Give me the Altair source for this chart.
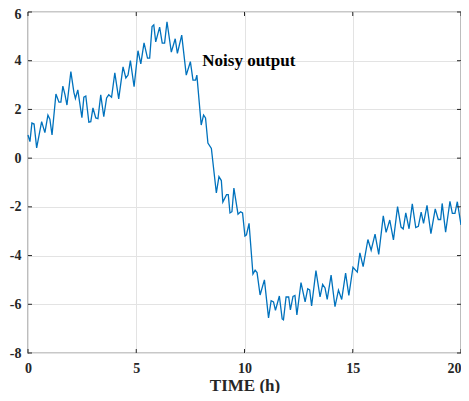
import altair as alt
import pandas as pd

# Time (h) of each traced vertex and the noisy output value
time_h = [0.00, 0.09, 0.18, 0.28, 0.40, 0.63, 0.78, 0.92, 1.01, 1.11, 1.29, 1.43, 1.52, 1.61, 1.71,
          1.80, 1.98, 2.12, 2.19, 2.30, 2.49, 2.58, 2.67, 2.81, 2.90, 3.00, 3.13, 3.23, 3.36, 3.50,
          3.63, 3.73, 3.86, 4.01, 4.19, 4.39, 4.52, 4.62, 4.73, 4.90, 5.08, 5.21, 5.36, 5.52, 5.62,
          5.73, 5.81, 5.90, 6.08, 6.20, 6.31, 6.42, 6.62, 6.80, 6.90, 7.10, 7.31, 7.50, 7.62, 7.74,
          7.80, 8.00, 8.11, 8.20, 8.31, 8.47, 8.70, 8.82, 8.93, 9.00, 9.17, 9.25, 9.33, 9.42, 9.51,
          9.70, 9.82, 9.91, 10.02, 10.09, 10.21, 10.39, 10.49, 10.58, 10.72, 10.92, 11.11, 11.23,
          11.34, 11.43, 11.61, 11.74, 11.80, 11.92, 12.04, 12.12, 12.24, 12.33, 12.42, 12.61, 12.80,
          12.92, 13.01, 13.10, 13.30, 13.49, 13.61, 13.72, 13.82, 14.00, 14.18, 14.34, 14.49, 14.67,
          14.82, 15.01, 15.21, 15.33, 15.48, 15.70, 15.85, 16.03, 16.20, 16.41, 16.54, 16.71, 16.88,
          17.07, 17.23, 17.33, 17.45, 17.60, 17.75, 17.91, 18.03, 18.16, 18.27, 18.43, 18.61, 18.81,
          18.95, 19.06, 19.13, 19.29, 19.49, 19.60, 19.72, 19.83, 20.00]
output = [0.95, 0.68, 1.44, 1.40, 0.42, 1.50, 1.05, 1.77, 1.60, 0.95, 2.63, 2.30, 2.30, 2.96, 2.60,
          2.18, 3.55, 2.70, 2.45, 2.80, 1.66, 2.50, 2.55, 1.48, 1.50, 2.06, 1.65, 1.62, 2.60, 1.70,
          2.47, 2.60, 2.50, 3.50, 2.43, 3.75, 3.29, 3.41, 4.00, 2.93, 4.41, 3.87, 4.73, 4.11, 4.11,
          5.40, 5.47, 4.77, 5.38, 4.72, 4.72, 5.60, 4.35, 4.90, 4.30, 5.05, 3.41, 3.96, 3.20, 3.20,
          3.41, 1.36, 1.77, 1.65, 0.62, 0.40, -1.43, -0.76, -0.92, -1.80, -1.50, -1.50, -2.25, -2.20, -1.23,
          -2.30, -2.20, -2.25, -3.20, -3.15, -2.68, -4.76, -4.60, -4.70, -5.62, -5.00, -6.56, -5.85,
          -5.90, -6.25, -5.66, -6.60, -6.64, -5.70, -5.70, -6.23, -5.68, -5.64, -6.44, -5.11, -5.90,
          -5.36, -5.41, -6.07, -4.62, -5.70, -5.18, -5.33, -5.80, -4.80, -6.10, -5.42, -5.80, -4.72,
          -5.64, -4.48, -4.68, -3.89, -4.45, -3.34, -3.78, -3.12, -3.95, -2.37, -3.05, -2.54, -3.36,
          -1.99, -2.83, -2.91, -2.25, -2.90, -1.88, -2.85, -2.80, -2.22, -2.68, -1.94, -3.10, -2.08,
          -2.52, -2.52, -1.86, -3.04, -1.77, -2.27, -2.27, -1.79, -2.74]

x_ticks = [0, 5, 10, 15, 20]
y_ticks = [-8, -6, -4, -2, 0, 2, 4, 6]
label_text = ["Noisy output"]
label_t = [10.2]
label_v = [4.0]

W, H = 433, 341
FONT = "Liberation Serif"
DARK = "#262626"

df = pd.DataFrame({"t": time_h, "v": output})
xt = pd.DataFrame({"t": x_ticks})
yt = pd.DataFrame({"v": y_ticks})
lab = pd.DataFrame({"t": label_t, "v": label_v, "text": label_text})

xscale = alt.Scale(domain=[0, 20], nice=False, zero=False)
yscale = alt.Scale(domain=[-8, 6], nice=False, zero=False)

common = dict(ticks=False, domain=False, grid=True, gridColor="#e3e3e3", labelFlush=False,
              labelFont=FONT, labelFontSize=14, labelFontWeight="bold", labelColor=DARK,
              labelExpr="datum.value")


def X():
    return alt.X("t:Q", scale=xscale, title="TIME (h)",
                 axis=alt.Axis(values=x_ticks, labelPadding=8, titlePadding=2,
                               labelAlign={"condition": {"test": "datum.value == 20",
                                                         "value": "right"},
                                           "value": "center"},
                               titleFont=FONT, titleFontSize=17, titleFontWeight="bold",
                               titleColor=DARK, **common))


def Y():
    return alt.Y("v:Q", scale=yscale, title=None,
                 axis=alt.Axis(values=y_ticks, labelPadding=7,
                               labelOffset={"condition": {"test": "datum.value == 6", "value": 2},
                                            "value": 0},
                               **common))


line = alt.Chart(df).mark_line(color="#0072BD", strokeWidth=1.3).encode(x=X(), y=Y())

tick_style = dict(color=DARK, strokeWidth=1)
xb = alt.Chart(xt).mark_rule(**tick_style).encode(x=X(), y=alt.value(H), y2=alt.value(H - 4))
xtop = alt.Chart(xt).mark_rule(**tick_style).encode(x=X(), y=alt.value(0), y2=alt.value(4))
yl = alt.Chart(yt).mark_rule(**tick_style).encode(y=Y(), x=alt.value(0), x2=alt.value(4))
yr = alt.Chart(yt).mark_rule(**tick_style).encode(y=Y(), x=alt.value(W), x2=alt.value(W - 4))

text = alt.Chart(lab).mark_text(font=FONT, fontSize=17, fontWeight="bold", color="black",
                                align="center", baseline="middle").encode(
    x=X(), y=Y(), text="text:N")

chart = alt.layer(line, xb, xtop, yl, yr, text).properties(
    width=W, height=H,
    background="white",
    autosize=alt.AutoSizeParams(type="none"),
    padding={"left": 20, "top": 4, "right": 0, "bottom": 40},
).configure_view(
    stroke=DARK, strokeWidth=1.2
)

chart.save("out.html", embed_options={"renderer": "svg", "actions": False})
